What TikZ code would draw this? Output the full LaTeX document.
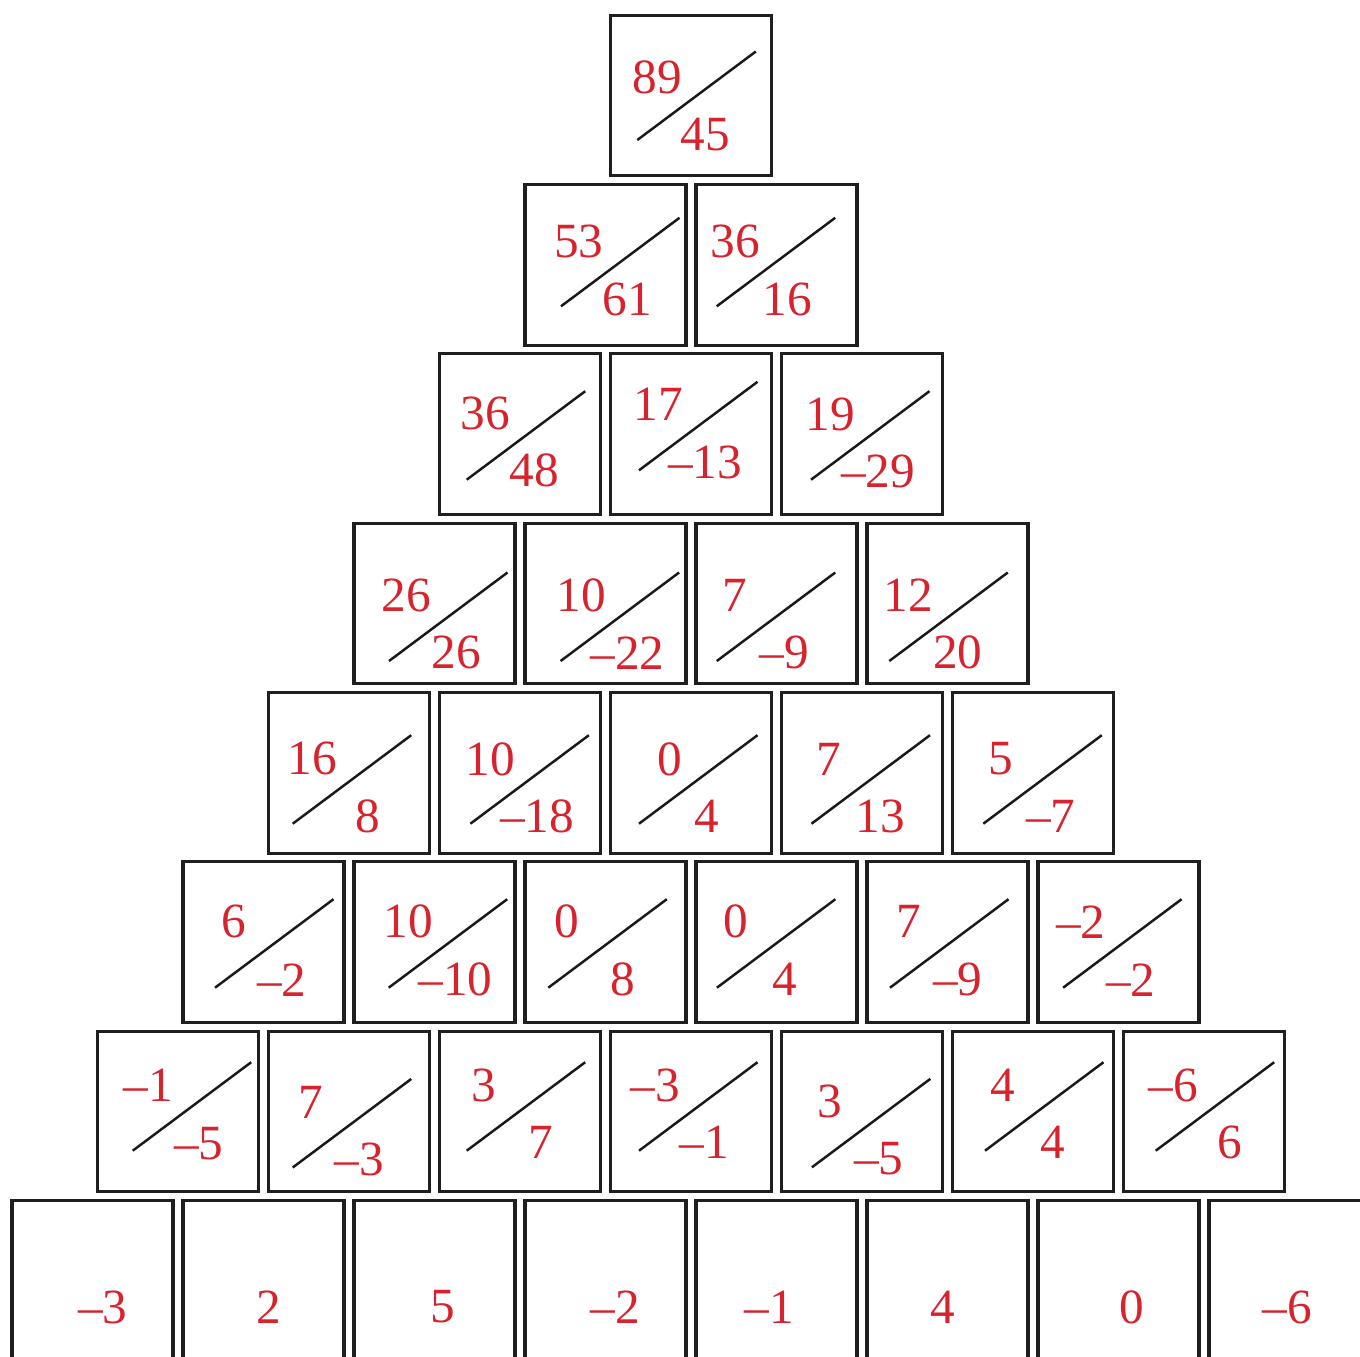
\documentclass[tikz,border=0pt]{standalone}
\usepackage{fontspec}
\setmainfont{Liberation Serif}
\usepackage{xcolor}
\usepackage{tikz}

\definecolor{numred}{RGB}{215,35,45}
\tikzset{
  brick/.style={draw=black!88, line width=0.9pt, minimum width=1.61cm, minimum height=1.605cm, inner sep=0pt},
  num/.style={text=numred, font=\fontsize{14}{16}\selectfont, inner sep=0pt},
  slash/.style={draw=black!90, line width=0.7pt}
}

\begin{document}
\begin{tikzpicture}[x=0.01cm, y=-0.01cm]

  % page frame (bottom row runs off the edge)
  \clip (0,0) rectangle (1360,1357);

  % --- row 0 ---
  \node [brick] (b00) at (691,95.5) {}; \node [num] (t00) at (657.5,77.5) {89}; \node [num] (u00) at (705.5,134.5) {45}; \draw [slash] (637.3,140) -- ++(118.5,-88.5);

  % --- row 1 ---
  \node [brick] (b10) at (605.5,264.8) {}; \node [num] (t10) at (578.7,241.3) {53}; \node [num] (u10) at (627.5,299) {61}; \draw [slash] (561,306.3) -- ++(118.5,-88.5);
  \node [brick] (b11) at (776.5,264.8) {}; \node [num] (t11) at (735.5,241.3) {36}; \node [num] (u11) at (787.2,299) {16}; \draw [slash] (716.7,306.3) -- ++(118.5,-88.5);

  % --- row 2 ---
  \node [brick] (b20) at (520,434.2) {}; \node [num] (t20) at (485.2,413.7) {36}; \node [num] (u20) at (534.2,470.5) {48}; \draw [slash] (466.7,479.7) -- ++(118.5,-88.5);
  \node [brick] (b21) at (691,434.2) {}; \node [num] (t21) at (658.3,404.7) {17}; \node [num] (u21) at (705.3,462) {–13}; \draw [slash] (639,470.3) -- ++(118.5,-88.5);
  \node [brick] (b22) at (862,434.2) {}; \node [num] (t22) at (830,414) {19}; \node [num] (u22) at (878,471) {–29}; \draw [slash] (811,479.7) -- ++(118.5,-88.5);

  % --- row 3 ---
  \node [brick] (b30) at (434.5,603.5) {}; \node [num] (t30) at (406.6,595.3) {26}; \node [num] (u30) at (456.5,652.7) {26}; \draw [slash] (389,661) -- ++(118.5,-88.5);
  \node [brick] (b31) at (605.5,603.5) {}; \node [num] (t31) at (581,595.3) {10}; \node [num] (u31) at (627.5,652.7) {–22}; \draw [slash] (560.6,661) -- ++(118.5,-88.5);
  \node [brick] (b32) at (776.5,603.5) {}; \node [num] (t32) at (734.9,595.3) {7}; \node [num] (u32) at (784.3,652.7) {–9}; \draw [slash] (716.8,661) -- ++(118.5,-88.5);
  \node [brick] (b33) at (947.5,603.5) {}; \node [num] (t33) at (908.3,595.3) {12}; \node [num] (u33) at (957.8,652.7) {20}; \draw [slash] (889.3,661) -- ++(118.5,-88.5);

  % --- row 4 ---
  \node [brick] (b40) at (349,772.8) {}; \node [num] (t40) at (312.2,758.7) {16}; \node [num] (u40) at (367.5,816) {8}; \draw [slash] (292.7,823.7) -- ++(118.5,-88.5);
  \node [brick] (b41) at (520,772.8) {}; \node [num] (t41) at (490.2,759) {10}; \node [num] (u41) at (537,816) {–18}; \draw [slash] (470.4,823.7) -- ++(118.5,-88.5);
  \node [brick] (b42) at (691,772.8) {}; \node [num] (t42) at (669.6,759) {0}; \node [num] (u42) at (707,816) {4}; \draw [slash] (639,823.7) -- ++(118.5,-88.5);
  \node [brick] (b43) at (862,772.8) {}; \node [num] (t43) at (829,759) {7}; \node [num] (u43) at (880.1,816) {13}; \draw [slash] (811.5,823.7) -- ++(118.5,-88.5);
  \node [brick] (b44) at (1033,772.8) {}; \node [num] (t44) at (1001.3,759) {5}; \node [num] (u44) at (1050.7,816) {–7}; \draw [slash] (983.3,823.7) -- ++(118.5,-88.5);

  % --- row 5 ---
  \node [brick] (b50) at (263.5,942.2) {}; \node [num] (t50) at (233.5,921.7) {6}; \node [num] (u50) at (281.7,979.7) {–2}; \draw [slash] (215,987.7) -- ++(118.5,-88.5);
  \node [brick] (b51) at (434.5,942.2) {}; \node [num] (t51) at (408.5,921.7) {10}; \node [num] (u51) at (455.5,979.7) {–10}; \draw [slash] (388.7,987.7) -- ++(118.5,-88.5);
  \node [brick] (b52) at (605.5,942.2) {}; \node [num] (t52) at (566.5,921.7) {0}; \node [num] (u52) at (622.5,979.7) {8}; \draw [slash] (548.3,987.7) -- ++(118.5,-88.5);
  \node [brick] (b53) at (776.5,942.2) {}; \node [num] (t53) at (735.8,921.7) {0}; \node [num] (u53) at (785.2,979.7) {4}; \draw [slash] (716.9,987.7) -- ++(118.5,-88.5);
  \node [brick] (b54) at (947.5,942.2) {}; \node [num] (t54) at (909,921.7) {7}; \node [num] (u54) at (957.7,979.7) {–9}; \draw [slash] (890,987.7) -- ++(118.5,-88.5);
  \node [brick] (b55) at (1118.5,942.2) {}; \node [num] (t55) at (1080.8,921.7) {–2}; \node [num] (u55) at (1130.8,979.7) {–2}; \draw [slash] (1063.1,987.7) -- ++(118.5,-88.5);

  % --- row 6 ---
  \node [brick] (b60) at (178,1111.5) {}; \node [num] (t60) at (148,1084.8) {–1}; \node [num] (u60) at (198.8,1143.2) {–5}; \draw [slash] (132.7,1150.7) -- ++(118.5,-88.5);
  \node [brick] (b61) at (349,1111.5) {}; \node [num] (t61) at (311.2,1102) {7}; \node [num] (u61) at (359.2,1159) {–3}; \draw [slash] (292.7,1167.5) -- ++(118.5,-88.5);
  \node [brick] (b62) at (520,1111.5) {}; \node [num] (t62) at (483.8,1085.7) {3}; \node [num] (u62) at (540.8,1142.8) {7}; \draw [slash] (466.7,1150.7) -- ++(118.5,-88.5);
  \node [brick] (b63) at (691,1111.5) {}; \node [num] (t63) at (655,1085.7) {–3}; \node [num] (u63) at (704,1142.5) {–1}; \draw [slash] (639,1150.7) -- ++(118.5,-88.5);
  \node [brick] (b64) at (862,1111.5) {}; \node [num] (t64) at (829.6,1101.7) {3}; \node [num] (u64) at (878.8,1158.3) {–5}; \draw [slash] (811.9,1167.3) -- ++(118.5,-88.5);
  \node [brick] (b65) at (1033,1111.5) {}; \node [num] (t65) at (1003,1085) {4}; \node [num] (u65) at (1053,1142.3) {4}; \draw [slash] (985,1150.7) -- ++(118.5,-88.5);
  \node [brick] (b66) at (1204,1111.5) {}; \node [num] (t66) at (1173,1085.5) {–6}; \node [num] (u66) at (1230,1142.7) {6}; \draw [slash] (1155.7,1150.7) -- ++(118.5,-88.5);

  % --- row 7 (base) ---
  \node [brick] (b70) at (92.5,1280.5) {};   \node [num] (v70) at (102.7,1307) {–3};
  \node [brick] (b71) at (263.5,1280.5) {};  \node [num] (v71) at (268.5,1307) {2};
  \node [brick] (b72) at (434.5,1280.5) {};  \node [num] (v72) at (442.8,1307) {5};
  \node [brick] (b73) at (605.5,1280.5) {};  \node [num] (v73) at (615,1307) {–2};
  \node [brick] (b74) at (776.5,1280.5) {};  \node [num] (v74) at (769.5,1307) {–1};
  \node [brick] (b75) at (947.5,1280.5) {};  \node [num] (v75) at (943,1307) {4};
  \node [brick] (b76) at (1118.5,1280.5) {}; \node [num] (v76) at (1131.7,1307) {0};
  \node [brick] (b77) at (1289.5,1280.5) {}; \node [num] (v77) at (1287,1307) {–6};

\end{tikzpicture}
\end{document}
